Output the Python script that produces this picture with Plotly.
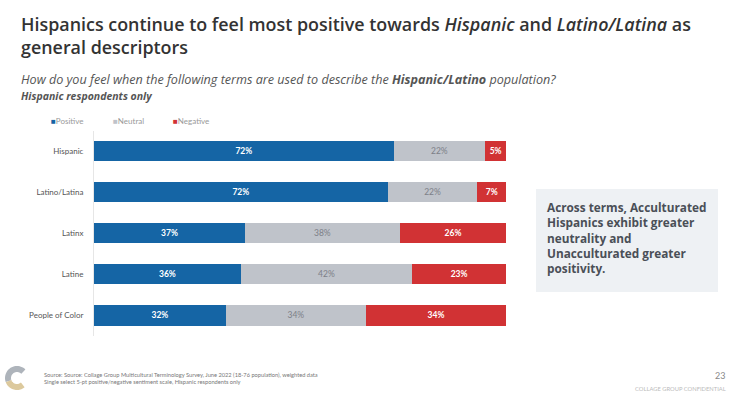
import math
import plotly.graph_objects as go

categories = ["Hispanic", "Latino/Latina", "Latinx", "Latine", "People of Color"]
positive = [72, 72, 37, 36, 32]
neutral = [22, 22, 38, 42, 34]
negative = [5, 7, 26, 23, 34]

W, H = 736, 400
def px(x): return x / W
def py(y): return 1 - y / H

BLUE = "#1565A5"
GRAY = "#BFC3CA"
RED = "#D13234"

fig = go.Figure()
series = [("Positive", positive, BLUE, "white", True),
          ("Neutral", neutral, GRAY, "#7d8088", False),
          ("Negative", negative, RED, "white", True)]
for name, vals, col, tcol, bold in series:
    fig.add_trace(go.Bar(
        y=categories, x=vals, name=name, orientation="h",
        marker=dict(color=col, line=dict(width=0)),
        text=[(f"<b>{v}%</b>" if bold else f"{v}%") for v in vals],
        textposition="inside", insidetextanchor="middle", textangle=0,
        textfont=dict(size=8.5, color=tcol, family="Lato"),
        constraintext="none", showlegend=False, width=0.49,
    ))

fig.update_layout(
    width=W, height=H, margin=dict(l=0, r=0, t=0, b=0),
    paper_bgcolor="white", plot_bgcolor="white",
    barmode="stack", barnorm="percent",
    xaxis=dict(domain=[px(94), px(506)], range=[0, 100], visible=False, fixedrange=True),
    yaxis=dict(domain=[py(336), py(130.5)], autorange=False, range=[4.5, -0.5],
               type="category", showline=True, linecolor="#e6e6e6", linewidth=1,
               ticks="", showgrid=False, tickfont=dict(size=8, color="#555", family="Lato"),
               ticklabelstandoff=8, fixedrange=True),
    font=dict(family="Open Sans"),
)

anns = []
anns.append(dict(x=px(19), y=py(35.5), xref="paper", yref="paper", xanchor="left", yanchor="middle",
                 align="left", showarrow=False,
                 text="Hispanics continue to feel most positive towards <i>Hispanic</i> and <i>Latino/Latina</i> as<br>general descriptors",
                 font=dict(size=17.9, color="#333333", family="Open Sans", weight=600)))
anns.append(dict(x=px(19), y=py(79), xref="paper", yref="paper", xanchor="left", yanchor="middle",
                 showarrow=False,
                 text="<i>How do you feel when the following terms are used to describe the <b>Hispanic/Latino</b> population?</i>",
                 font=dict(size=12.6, color="#555", family="Open Sans")))
anns.append(dict(x=px(19), y=py(96), xref="paper", yref="paper", xanchor="left", yanchor="middle",
                 showarrow=False, text="<b><i>Hispanic respondents only</i></b>",
                 font=dict(size=10.5, color="#555", family="Open Sans")))
# legend
for xx, name, col in [(49, "Positive", BLUE), (111, "Neutral", GRAY), (171, "Negative", RED)]:
    anns.append(dict(x=px(xx), y=py(121), xref="paper", yref="paper", xanchor="left", yanchor="middle",
                     showarrow=False, text=f"<span style='color:{col}'>■</span>{name}",
                     font=dict(size=8, color="#999", family="Lato")))
# side box
anns.append(dict(x=px(545), y=py(237), xref="paper", yref="paper", xanchor="left", yanchor="middle",
                 align="left", showarrow=False,
                 text="<b>Across terms, Acculturated<br>Hispanics exhibit greater<br>neutrality and<br>Unacculturated greater<br>positivity.</b>",
                 font=dict(size=11.8, color="#4a4f57", family="Open Sans")))
# footer
anns.append(dict(x=px(42), y=py(378), xref="paper", yref="paper", xanchor="left", yanchor="middle",
                 align="left", showarrow=False,
                 text="Source: Source: Collage Group Multicultural Terminology Survey, June 2022 (18-76 population), weighted data<br>Single select 5-pt positive/negative sentiment scale, Hispanic respondents only",
                 font=dict(size=5.7, color="#777", family="Lato")))
anns.append(dict(x=px(727), y=py(375), xref="paper", yref="paper", xanchor="right", yanchor="middle",
                 showarrow=False, text="23", font=dict(size=9, color="#888", family="Lato")))
anns.append(dict(x=px(728), y=py(388), xref="paper", yref="paper", xanchor="right", yanchor="middle",
                 showarrow=False, text="COLLAGE GROUP CONFIDENTIAL", font=dict(size=5.8, color="#bbb", family="Lato")))

def arc_path(cx, cy, r, a0, a1, n=24):
    pts = []
    for i in range(n + 1):
        a = math.radians(a0 + (a1 - a0) * i / n)
        pts.append((px(cx + r * math.cos(a)), py(cy - r * math.sin(a))))
    return "M " + " L ".join(f"{x:.5f},{y:.5f}" for x, y in pts)

shapes = [
    dict(type="rect", xref="paper", yref="paper", x0=px(536), x1=px(718), y0=py(292), y1=py(189),
         fillcolor="#EEF1F4", line=dict(width=0), layer="below"),
    dict(type="path", xref="paper", yref="paper", path=arc_path(17, 378, 9, 45, 200),
         line=dict(color="#aeb4bb", width=6)),
    dict(type="path", xref="paper", yref="paper", path=arc_path(17, 378, 9, 200, 310),
         line=dict(color="#dcc99d", width=6)),
]
fig.update_layout(annotations=anns, shapes=shapes)
fig.write_html("out.html", config={"displayModeBar": False, "staticPlot": True},
               post_script="document.body.style.margin='0';")
